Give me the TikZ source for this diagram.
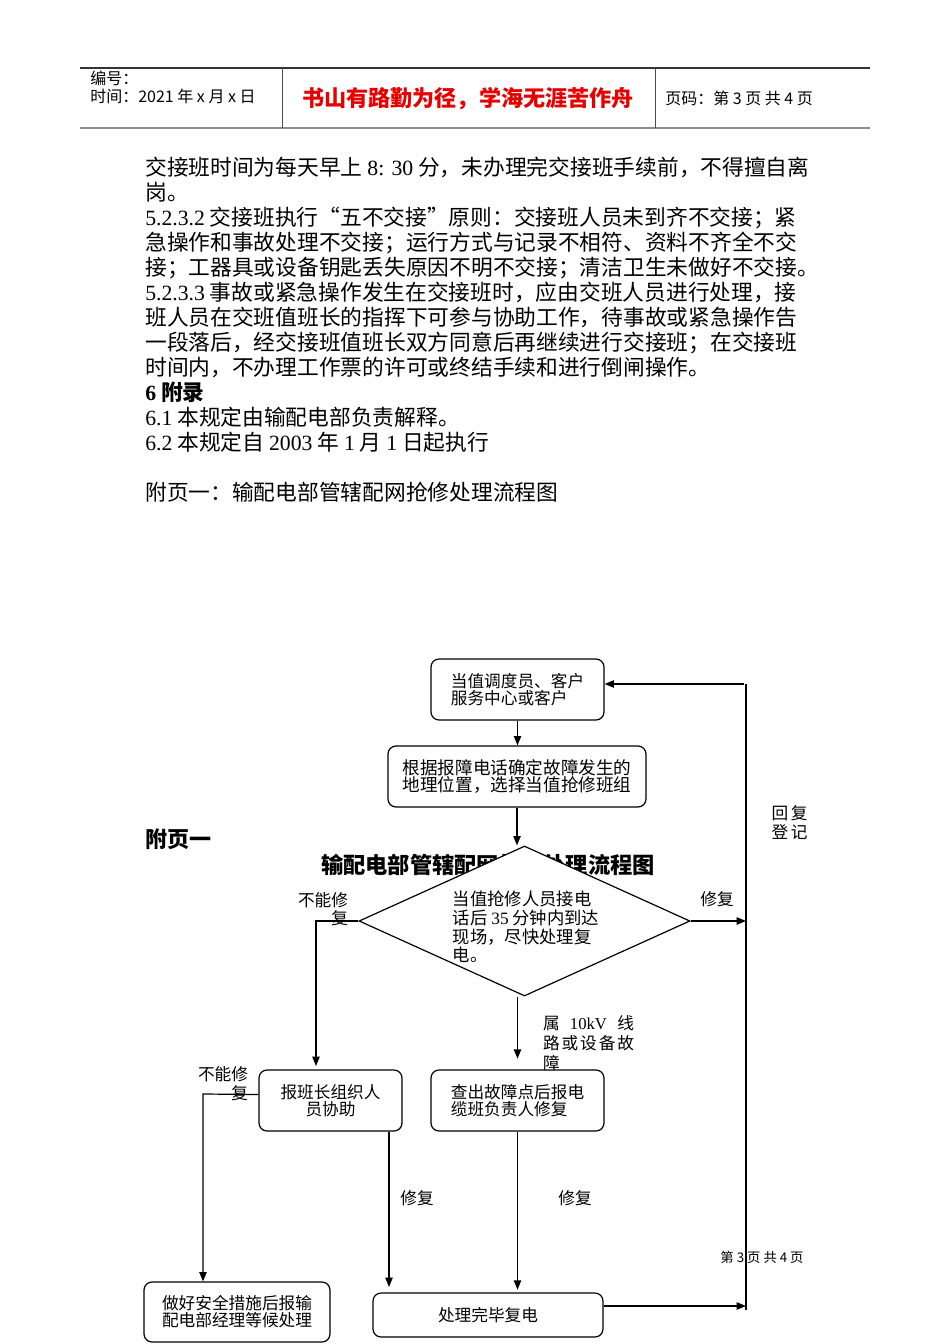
\documentclass[tikz,border=0pt]{standalone}
\usepackage{fontspec}
\setmainfont{Noto Sans CJK SC}
\newfontfamily\timesfont{Liberation Serif}
\newcommand{\tnum}[1]{{\timesfont #1}}
\usetikzlibrary{shapes.geometric, arrows.meta, positioning}
\definecolor{mottored}{HTML}{E60000}
\definecolor{rulegray}{HTML}{8C8C8C}

\tikzset{
  flowbox/.style={draw, rounded corners=6pt, line width=0.9pt, fill=white,
    inner sep=0pt, align=left, font=\fontsize{12.5}{12.75}\selectfont},
  flowline/.style={line width=0.9pt},
  flowarrow/.style={flowline, -{Triangle[length=7pt,width=5.5pt]}},
  flowlabel/.style={inner sep=0pt, font=\fontsize{12.5}{14}\selectfont},
  headtext/.style={inner sep=0pt, anchor=west, font=\fontsize{12}{14}\selectfont},
}

\begin{document}
\begin{tikzpicture}[x=0.75pt, y=-0.75pt]
\useasboundingbox (0,0) rectangle (950,1344);

% header
\draw[line width=0.8pt, black!80] (80,68) -- (870,68);
\draw[line width=1.8pt, rulegray] (80,128) -- (870,128);
\draw[line width=0.7pt, black!70] (282,68) -- (282,128) (655,68) -- (655,128);
\node (serial) [headtext] at (90,78) {编号：};
\node (date) [headtext] at (90,96) {时间：2021 年 x 月 x 日};
\node (motto) [inner sep=0pt, text=mottored, font=\fontsize{16.6}{18}\selectfont\bfseries]
  at (468,99) {书山有路勤为径，学海无涯苦作舟};
\node (pageno) [headtext] at (665,98) {页码：第 3 页 共 4 页};

% body text
\node (body) [anchor=north west, inner sep=0pt, align=left,
  font=\fontsize{16.3}{18.75}\selectfont] at (145,157) {
交接班时间为每天早上 \tnum{8: 30} 分，未办理完交接班手续前，不得擅自离\\
岗。\\
\tnum{5.2.3.2} 交接班执行“五不交接”原则：交接班人员未到齐不交接；紧\\
急操作和事故处理不交接；运行方式与记录不相符、资料不齐全不交\\
接；工器具或设备钥匙丢失原因不明不交接；清洁卫生未做好不交接。\\
\tnum{5.2.3.3} 事故或紧急操作发生在交接班时，应由交班人员进行处理，接\\
班人员在交班值班长的指挥下可参与协助工作，待事故或紧急操作告\\
一段落后，经交接班值班长双方同意后再继续进行交接班；在交接班\\
时间内，不办理工作票的许可或终结手续和进行倒闸操作。\\
{\bfseries\tnum{6} 附录}\\
\tnum{6.1} 本规定由输配电部负责解释。\\
\tnum{6.2} 本规定自 \tnum{2003} 年 \tnum{1} 月 \tnum{1} 日起执行\\[18.75pt]
附页一：输配电部管辖配网抢修处理流程图};

% flowchart
\node (appendix) [anchor=west, inner sep=0pt, font=\fontsize{16.5}{18}\selectfont\bfseries]
  at (145,839) {附页一};
\node (title) [inner sep=0pt, font=\fontsize{16.7}{18}\selectfont\bfseries]
  at (488,865) {输配电部管辖配网抢修处理流程图};

\node (caller) [flowbox, minimum width=129.75pt, minimum height=45.75pt]
  at (517.5,689.5) {当值调度员、客户\\服务中心或客户};
\node (locate) [flowbox, minimum width=193.5pt, minimum height=45.75pt,
  font=\fontsize{13.2}{12.75}\selectfont] at (517,776.5)
  {根据报障电话确定故障发生的\\地理位置，选择当值抢修班组};
\node (onsite) [diamond, draw, fill=white, line width=0.9pt, inner sep=0pt,
  minimum width=248.25pt, minimum height=112.5pt] at (524.5,921) {};
\node (onsitetxt) [inner sep=0pt, align=left, font=\fontsize{13}{14}\selectfont]
  at (526,927) {当值抢修人员接电\\话后 \tnum{35} 分钟内到达\\现场，尽快处理复\\电。};
\node (helper) [flowbox, align=center, minimum width=107.25pt, minimum height=45.75pt]
  at (330.5,1100.5) {报班长组织人\\员协助};
\node (cable) [flowbox, minimum width=129.75pt, minimum height=45.75pt]
  at (517.5,1100.5) {查出故障点后报电\\缆班负责人修复};
\node (safety) [flowbox, minimum width=139.5pt, minimum height=45pt]
  at (237,1312) {做好安全措施后报输\\配电部经理等候处理};
\node (restore) [flowbox, minimum width=172.5pt, minimum height=33pt]
  at (488,1315) {处理完毕复电};

% return line on the right
\node (pagefoot) [inner sep=0pt, font=\fontsize{10}{12}\selectfont] at (762,1257) {第 3 页 共 4 页};
\coordinate (rettop) at (746,684);
\coordinate (retbot) at (746,1306);
\coordinate (leftturn) at (316,921);
\coordinate (farleft) at (203,1094);
\coordinate (helpdown) at (389,1287);

\draw[flowarrow] (caller.south) -- (caller.south |- locate.north);
\draw[flowarrow] (locate.south) -- (locate.south |- onsite.north);
\draw[flowarrow, shorten >=2.5pt] (onsite.west) -- (leftturn) -- (leftturn |- helper.north);
\draw[flowarrow] (onsite.east) -- (onsite.east -| rettop);
\draw[flowarrow, shorten >=8pt] (cable.north |- onsite.south) -- (cable.north);
\draw[flowarrow] ([yshift=4.5pt]helper.west) -- (farleft) -- (farleft |- safety.north);
\draw[flowarrow] (helpdown |- helper.south) -- (helpdown);
\draw[flowarrow, shorten >=2pt] (cable.south) -- (cable.south |- restore.north);
\draw[flowarrow] ([yshift=6.75pt]restore.east) -- (retbot);
\draw[flowline] ([yshift=-3pt]retbot) -- (rettop);
\draw[flowarrow] ([xshift=-1.5pt]rettop) -- (rettop -| caller.east);

% labels
\node (nofix1) [flowlabel, align=right] at (323,909) {不能修\\复};
\node (fixed1) [flowlabel] at (717,899) {修复};
\node (fault10kv) [flowlabel, align=left, font=\fontsize{12.5}{15}\selectfont] at (588.5,1043.5)
  {\makebox[68.25pt][s]{属\hfill\tnum{10kV}\hfill 线}\\
   \makebox[68.25pt][s]{路\hfill 或\hfill 设\hfill 备\hfill 故}\\障};
\node (nofix2) [flowlabel, align=right] at (223,1083.5) {不能修\\复};
\node (fixed2) [flowlabel] at (417,1198) {修复};
\node (fixed3) [flowlabel] at (575,1198) {修复};
\node (reply) [flowlabel, align=left] at (789.5,822.5) {回\hspace{2pt}复\\登\hspace{2pt}记};
\end{tikzpicture}
\end{document}
